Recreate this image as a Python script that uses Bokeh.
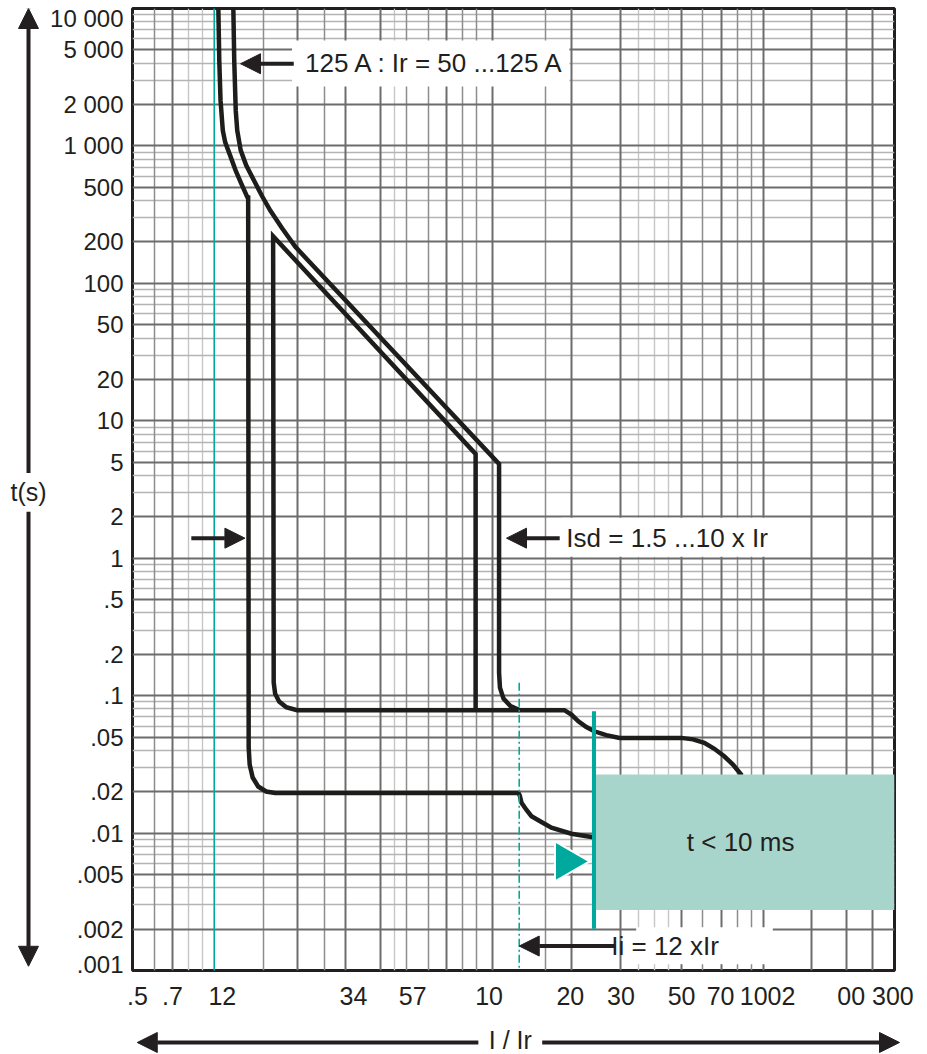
import math
from bokeh.plotting import figure
from bokeh.layouts import row, column
from bokeh.models import (FixedTicker, CustomJSTickFormatter, Label, Arrow, NormalHead,
                          Grid, Range1d)
from bokeh.embed import file_html
from bokeh.resources import INLINE

INK = "#231f20"
CURVE = "#1d1d1b"
TEAL = "#00a99d"
BOXFILL = "#a8d5cb"
FONT = "Liberation Sans"

# ---------------- axis labels (as printed on the chart) ----------------
y_tick_pos = [8459, 5000, 2000, 1000, 500, 200, 100, 50, 20, 10, 5, 2, 1, 0.5, 0.2, 0.1,
              0.05, 0.02, 0.01, 0.005, 0.002, 0.001115]
y_tick_lab = ["10 000", "5 000", "2 000", "1 000", "500", "200", "100", "50", "20", "10",
              "5", "2", "1", ".5", ".2", ".1", ".05", ".02", ".01", ".005", ".002", ".001"]
x_tick_pos = [0.5215, 0.699, 1.063, 3.196, 5.257, 9.976, 19.74, 30.18, 50.2, 69.7, 103.4, 255.9]
x_tick_lab = [".5", ".7", "12", "34", "57", "10", "20", "30", "50", "70", "1002", "00 300"]

# ---------------- grid positions ----------------
x_grid_dark = [0.7, 2, 3, 4, 7, 10.3, 20, 30, 50, 70, 100, 150, 200, 250]
x_grid_mid = [0.6, 1.5, 2.5, 5, 6, 8, 9, 16, 60, 80, 90]
x_grid_light = [0.8, 0.9, 4.5, 35, 40, 45]
y_grid_major = [0.002, 0.005, 0.01, 0.02, 0.05, 0.1, 0.2, 0.5, 1, 2, 5, 10, 20, 50,
                100, 200, 500, 1000, 2000, 5000]
y_grid_minor = [0.003, 0.004, 0.006, 0.007, 0.008, 0.009,
                0.03, 0.04, 0.06, 0.07, 0.08, 0.09,
                0.3, 0.4, 0.6, 0.7, 0.8, 0.9,
                3, 4, 6, 7, 8, 9,
                30, 40, 60, 70, 80, 90,
                300, 400, 600, 700, 800, 900,
                3000, 4000, 6000, 7000, 8000, 9000]

# ---------------- trip curves (I/Ir, t in s) ----------------
curve_L_x = [1.027, 1.036, 1.047, 1.067, 1.089, 1.124, 1.188, 1.245, 1.31, 1.3204, 1.326,
             1.3372, 1.3712, 1.4359, 1.5357, 1.6557, 12.77, 12.91, 13.10, 13.66, 14.24,
             15.48, 16.84, 19.91, 23.87]
curve_L_t = [11000, 4190, 2145, 1298, 1062, 898, 664.7, 534.8, 425.4, 423.2, 0.04188,
             0.03151, 0.02536, 0.02182, 0.02006, 0.01956, 0.01956, 0.01876, 0.01661,
             0.01472, 0.01327, 0.01204, 0.01093, 0.009883, 0.009337]

curve_R_x = [1.1648, 1.1746, 1.1895, 1.2045, 1.2402, 1.2986, 1.3851, 1.4846, 1.588, 1.7555,
             1.9627, 10.85, 10.85, 10.93, 11.26, 11.94, 12.88, 18.77, 19.91, 21.11, 22.57,
             24.13, 26.69, 29.83, 50.0, 55.28, 60.76, 65.91, 71.84, 77.28, 83.33]
curve_R_t = [11000, 4190, 1814, 1298, 928.9, 722.8, 562.3, 430.3, 340.4, 251.9, 184.2,
             4.853, 0.1470, 0.1143, 0.09510, 0.08390, 0.07845, 0.07845, 0.07278, 0.06504,
             0.05903, 0.05504, 0.05162, 0.04927, 0.04927, 0.04805, 0.04532, 0.04120,
             0.03622, 0.03151, 0.02622]

inner_x = [12.88, 1.9908, 1.8153, 1.7121, 1.6557, 1.636, 1.628, 8.911, 8.911]
inner_t = [0.07845, 0.07845, 0.08251, 0.09046, 0.1034, 0.1243, 220.3, 5.737, 0.07845]

# teal reference lines
ir_line_x = 0.993
ii_line_x = 12.85
ii_line_t = [0.1243, 0.001]
inst_line_x = 24.07
inst_line_t = [0.07689, 0.002016]
# t < 10 ms zone
zone_left, zone_right, zone_top, zone_bottom = 24.07, 300, 0.02666, 0.002753
marker_x, marker_t = 19.12, 0.00622

# white label backgrounds (left, right, top, bottom)
bg_left = [1.908, 18.31, 34.3]
bg_right = [19.58, 101.9, 108.0]
bg_top = [5853, 1.966, 0.00206]
bg_bottom = [2711, 1.024, 0.001109]

MAIN_H = 1012

# ================= main chart =================
p = figure(width=873, height=MAIN_H, x_axis_type="log", y_axis_type="log",
           x_range=Range1d(0.5, 300), y_range=Range1d(0.001, 10000),
           output_backend="svg", toolbar_location=None,
           min_border_left=83, min_border_right=26, min_border_top=8,
           min_border_bottom=41)
p.background_fill_color = "white"
p.border_fill_color = "white"
p.outline_line_color = INK
p.outline_line_width = 3

p.xgrid.ticker = FixedTicker(ticks=x_grid_light)
p.xgrid.grid_line_color = "#c6c6c6"
p.xgrid.grid_line_width = 1.4
p.ygrid.ticker = FixedTicker(ticks=y_grid_minor)
p.ygrid.grid_line_color = "#b4b4b4"
p.ygrid.grid_line_width = 1.3
p.add_layout(Grid(dimension=0, ticker=FixedTicker(ticks=x_grid_mid),
                  grid_line_color="#8c8c8c", grid_line_width=1.5))
p.add_layout(Grid(dimension=0, ticker=FixedTicker(ticks=x_grid_dark),
                  grid_line_color="#6c6c6c", grid_line_width=2))
p.add_layout(Grid(dimension=1, ticker=FixedTicker(ticks=y_grid_major),
                  grid_line_color="#6c6c6c", grid_line_width=2))

CODE = """
let best = 0; let bd = Infinity;
for (let i = 0; i < pos.length; i++) {
  const d = Math.abs(Math.log(tick) - Math.log(pos[i]));
  if (d < bd) { bd = d; best = i; }
}
return labs[best];
"""
for ax, pos, lab, standoff, fsize in ((p.xaxis[0], x_tick_pos, x_tick_lab, 11, "25px"),
                                      (p.yaxis[0], y_tick_pos, y_tick_lab, 9, "24px")):
    ax.ticker = FixedTicker(ticks=pos)
    ax.formatter = CustomJSTickFormatter(args=dict(pos=pos, labs=lab), code=CODE)
    ax.axis_line_color = None
    ax.major_tick_line_color = None
    ax.minor_tick_line_color = None
    ax.major_tick_out = 0
    ax.major_tick_in = 0
    ax.major_label_standoff = standoff
    ax.major_label_text_font = FONT
    ax.major_label_text_font_size = fsize
    ax.major_label_text_color = INK

p.quad(left=bg_left, right=bg_right, top=bg_top, bottom=bg_bottom,
       fill_color="white", line_color=None)

for xs, ts in ((curve_L_x, curve_L_t), (curve_R_x, curve_R_t), (inner_x, inner_t)):
    p.line(xs, ts, line_color=CURVE, line_width=4.5, line_join="miter")

p.quad(left=[zone_left], right=[zone_right], top=[zone_top], bottom=[zone_bottom],
       fill_color=BOXFILL, line_color=None)

p.segment(x0=[ir_line_x], y0=[0.0009], x1=[ir_line_x], y1=[11000],
          line_color=TEAL, line_width=1.6)
p.segment(x0=[ii_line_x], y0=[ii_line_t[0]], x1=[ii_line_x], y1=[ii_line_t[1]],
          line_color=TEAL, line_width=1.6, line_dash="8 3 2 3")
p.segment(x0=[inst_line_x], y0=[inst_line_t[0]], x1=[inst_line_x], y1=[inst_line_t[1]],
          line_color=TEAL, line_width=4)
p.scatter([marker_x], [marker_t], marker="triangle", size=40, angle=-math.pi / 2,
          fill_color=TEAL, line_color="white", line_width=2)


def head():
    return NormalHead(size=20, fill_color=INK, line_color=INK, line_width=1)


inner_arrows = [
    (1.936, 3964, 1.2383, 3964),
    (0.8193, 1.3996, 1.2848, 1.3996),
    (18.05, 1.3996, 11.55, 1.3996),
    (28.78, 0.001507, 12.85, 0.001507),
]
for xs, ys, xe, ye in inner_arrows:
    p.add_layout(Arrow(x_start=xs, y_start=ys, x_end=xe, y_end=ye,
                       line_color=INK, line_width=4, end=head()))

texts = [
    ("125 A : Ir =  50 ...125 A", 2.129, 3984, "left"),
    ("Isd = 1.5 ...10 x Ir", 19.09, 1.3996, "left"),
    ("Ii = 12 xIr", 27.83, 0.001507, "left"),
    ("t < 10 ms", 82.43, 0.008546, "center"),
]
for txt, x, y, align in texts:
    p.add_layout(Label(x=x, y=y, text=txt, text_font=FONT, text_font_size="26px",
                       text_color=INK, text_align=align, text_baseline="middle"))

# ================= left strip: t(s) axis arrow (same time scale) =================
left = figure(width=47, height=MAIN_H, x_range=Range1d(0, 1), y_axis_type="log",
              y_range=Range1d(0.001, 10000), output_backend="svg",
              toolbar_location=None, x_axis_location=None, y_axis_location=None,
              min_border_left=0, min_border_right=0,
              min_border_top=8, min_border_bottom=41)
left.outline_line_color = None
left.grid.visible = False
t_axis_x = 0.596
left.add_layout(Arrow(x_start=t_axis_x, y_start=4.174, x_end=t_axis_x, y_end=10000,
                      line_color=INK, line_width=4, end=head()))
left.add_layout(Arrow(x_start=t_axis_x, y_start=2.174, x_end=t_axis_x, y_end=0.001073,
                      line_color=INK, line_width=4, end=head()))
left.add_layout(Label(x=t_axis_x, y=3.054, text="t(s)", text_font=FONT,
                      text_font_size="25px", text_color=INK, text_align="center",
                      text_baseline="middle"))

# ================= bottom strip: I / Ir axis arrow (same current scale) =================
bottom = figure(width=920, height=1054 - MAIN_H, x_axis_type="log",
                x_range=Range1d(0.1683, 372.9), y_range=Range1d(0, 1),
                output_backend="svg", toolbar_location=None,
                x_axis_location=None, y_axis_location=None,
                min_border_left=0, min_border_right=0,
                min_border_top=0, min_border_bottom=0)
bottom.outline_line_color = None
bottom.grid.visible = False
i_axis_y = 0.286
bottom.add_layout(Arrow(x_start=9.199, y_start=i_axis_y, x_end=0.5289, y_end=i_axis_y,
                        line_color=INK, line_width=4, end=head()))
bottom.add_layout(Arrow(x_start=15.70, y_start=i_axis_y, x_end=312.8, y_end=i_axis_y,
                        line_color=INK, line_width=4, end=head()))
bottom.add_layout(Label(x=12.02, y=0.357, text="I / Ir", text_font=FONT,
                        text_font_size="25px", text_color=INK, text_align="center",
                        text_baseline="middle"))

layout = column(row(left, p), bottom)
open("out.html", "w").write(file_html(layout, INLINE))
